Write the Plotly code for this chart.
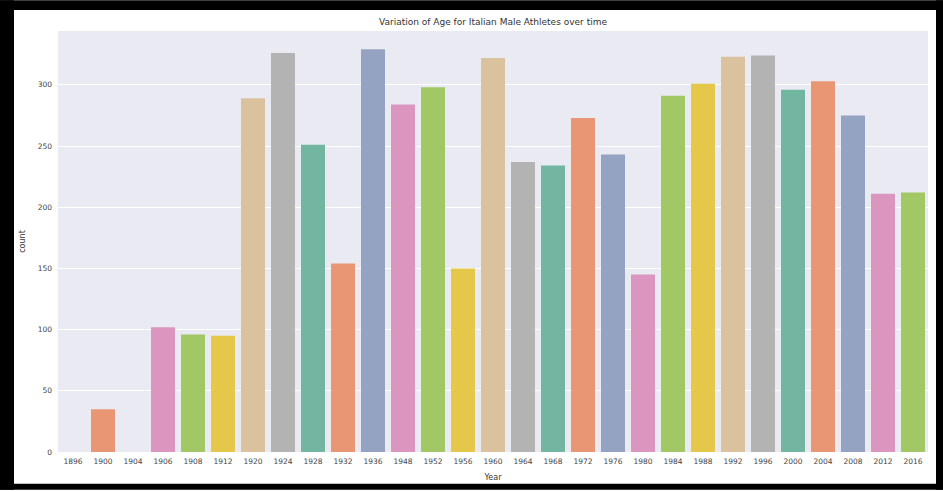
import colorsys
import plotly.graph_objects as go

years = ["1896", "1900", "1904", "1906", "1908", "1912", "1920", "1924", "1928", "1932",
         "1936", "1948", "1952", "1956", "1960", "1964", "1968", "1972", "1976", "1980",
         "1984", "1988", "1992", "1996", "2000", "2004", "2008", "2012", "2016"]
counts = [0, 35, 0, 102, 96, 95, 289, 326, 251, 154,
          329, 284, 298, 150, 322, 237, 234, 273, 243, 145,
          291, 301, 323, 324, 296, 303, 275, 211, 212]
y_ticks = [0, 50, 100, 150, 200, 250, 300]

set2 = ["#66c2a5", "#fc8d62", "#8da0cb", "#e78ac3", "#a6d854", "#ffd92f", "#e5c494", "#b3b3b3"]


def desat(hexc, prop=0.75):
    r, g, b = (int(hexc[i:i + 2], 16) / 255 for i in (1, 3, 5))
    h, l, s = colorsys.rgb_to_hls(r, g, b)
    r, g, b = colorsys.hls_to_rgb(h, l, s * prop)
    return "rgb(%d,%d,%d)" % (round(r * 255), round(g * 255), round(b * 255))


palette = [desat(c) for c in set2]
colors = [palette[i % 8] for i in range(len(years))]

W, H = 943, 492
ML, MR, MT, MB = 58, 15, 31, 38
PW, PH = W - ML - MR, H - MT - MB

fig = go.Figure(go.Bar(x=years, y=counts, marker=dict(color=colors, line=dict(width=0)),
                       width=0.8))


def px2paper_x(px):
    return (px - ML) / PW


def px2paper_y(py):
    return (H - MB - py) / PH


shapes = []
for (x0, y0, x1, y1) in [(0, 0, W, 10), (0, 0, 14, H), (W - 7, 0, W, H), (0, H - 6, W, H)]:
    shapes.append(dict(type="rect", xref="paper", yref="paper",
                       x0=px2paper_x(x0), x1=px2paper_x(x1),
                       y0=px2paper_y(y1), y1=px2paper_y(y0),
                       fillcolor="black", line=dict(width=0), layer="above"))

fig.update_layout(
    width=W, height=H,
    margin=dict(l=ML, r=MR, t=MT, b=MB),
    paper_bgcolor="white", plot_bgcolor="#eaeaf2",
    font=dict(family="DejaVu Sans", color="#262626"),
    title=dict(text="Variation of Age for Italian Male Athletes over time",
               x=(493 - ML) / PW, xref="paper", xanchor="center",
               y=1 - 22 / H, yanchor="middle", font=dict(size=9, color="#333333")),
    showlegend=False,
    bargap=0.2,
    shapes=shapes,
)
fig.update_xaxes(type="category", range=[-0.5, len(years) - 0.5], showgrid=False,
                 tickfont=dict(size=7.5, color="#444444"), ticks="", zeroline=False,
                 ticklabelstandoff=3,
                 title=dict(text="Year", font=dict(size=8, color="#333333"), standoff=9))
fig.update_yaxes(range=[0, 344], tickvals=y_ticks, showgrid=True, gridcolor="white",
                 gridwidth=1, zeroline=False, ticks="",
                 ticklabelstandoff=5,
                 tickfont=dict(size=7.5, color="#444444"),
                 title=dict(text="count", font=dict(size=8, color="#333333"), standoff=10))

fig.write_html("out.html", config={"displayModeBar": False},
               post_script="document.body.style.margin='0';document.body.style.overflow='hidden';")
